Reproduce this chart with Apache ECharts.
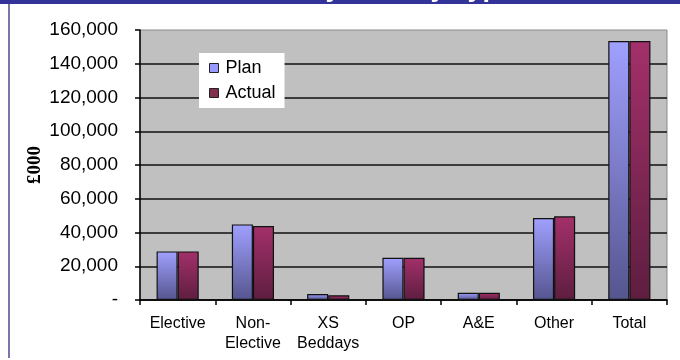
<!DOCTYPE html>
<html>
<head>
<meta charset="utf-8">
<script src="https://cdn.jsdelivr.net/npm/echarts@6/dist/echarts.min.js"></script>
<style>
  html, body { margin: 0; padding: 0; background: #ffffff; }
  #chart { width: 680px; height: 360px; }
</style>
</head>
<body>
<div id="chart"></div>
<script>
// Plan vs actual spend by activity type, £000
const categories = ['Elective', 'Non-\nElective', 'XS\nBeddays', 'OP', 'A&E', 'Other', 'Total'];
const planValues = [28800, 44800, 3600, 25000, 4300, 48600, 153500];
const actualValues = [28800, 43800, 2800, 25000, 4300, 49600, 153500];
const yTicks = { min: 0, max: 160000, interval: 20000 };

const FONT = '"Liberation Sans", Arial, sans-serif';

function grad(top, bottom) {
  return new echarts.graphic.LinearGradient(0, 0, 0, 1, [
    { offset: 0, color: top },
    { offset: 1, color: bottom }
  ]);
}

const chart = echarts.init(document.getElementById('chart'), null, { renderer: 'canvas' });

chart.setOption({
  animation: false,
  backgroundColor: '#ffffff',
  graphic: [
    // header band and left frame edge
    { type: 'rect', shape: { x: 0, y: 0, width: 680, height: 4 }, style: { fill: '#333399' }, z: 10 },
    { type: 'rect', shape: { x: 8, y: 4, width: 2, height: 354 }, style: { fill: '#7878a8' }, z: 10 },
    {
      type: 'text', x: 117, y: 2, z: 11,
      style: {
        text: 'Plan vs Actual by Activity Type',
        font: 'bold 27px ' + FONT,
        fill: '#ffffff',
        textVerticalAlign: 'bottom'
      }
    }
  ],
  grid: {
    left: 140, right: 13, top: 30, bottom: 60,
    show: true,
    backgroundColor: '#c0c0c0',
    borderColor: '#8a8a8a',
    borderWidth: 1
  },
  legend: {
    left: 199, top: 53,
    orient: 'vertical',
    backgroundColor: '#ffffff',
    padding: [6, 9, 6, 10],
    itemWidth: 9, itemHeight: 9,
    itemGap: 7,
    textStyle: { fontFamily: FONT, fontSize: 18, color: '#000', padding: [0, 0, 0, 2] },
    data: [
      { name: 'Plan', icon: 'rect', itemStyle: { color: '#9999ff', borderColor: '#222', borderWidth: 1 } },
      { name: 'Actual', icon: 'rect', itemStyle: { color: '#80304f', borderColor: '#222', borderWidth: 1 } }
    ]
  },
  xAxis: {
    type: 'category',
    data: categories,
    axisLine: { lineStyle: { color: '#000', width: 1.5 } },
    axisTick: { show: true, length: 5, lineStyle: { color: '#000', width: 1.5 } },
    axisLabel: { fontFamily: FONT, fontSize: 16, color: '#000', margin: 14, lineHeight: 20, interval: 0 }
  },
  yAxis: {
    type: 'value',
    min: yTicks.min, max: yTicks.max, interval: yTicks.interval,
    name: '£000',
    nameLocation: 'middle',
    nameGap: 95,
    nameMoveOverlap: false,
    nameTextStyle: { fontFamily: '"Liberation Serif", "Times New Roman", serif', fontWeight: 'bold', fontSize: 19, color: '#000' },
    axisLine: { show: true, lineStyle: { color: '#000', width: 1.5 } },
    axisTick: { show: true, length: 5, lineStyle: { color: '#000', width: 1.5 } },
    axisLabel: {
      fontFamily: FONT, fontSize: 19, color: '#000', margin: 22,
      formatter: v => v === 0 ? '-' : v.toLocaleString('en-GB')
    },
    splitLine: { show: true, showMaxLine: false, lineStyle: { color: '#111', width: 1.5 } }
  },
  series: [
    {
      name: 'Plan', type: 'bar', data: planValues,
      barGap: '0%', barCategoryGap: '44%',
      itemStyle: { color: grad('#a0a0ff', '#55558f'), borderColor: '#111', borderWidth: 1.2 }
    },
    {
      name: 'Actual', type: 'bar', data: actualValues,
      itemStyle: { color: grad('#a3306a', '#5e1e40'), borderColor: '#111', borderWidth: 1.2 }
    }
  ]
});
</script>
</body>
</html>
